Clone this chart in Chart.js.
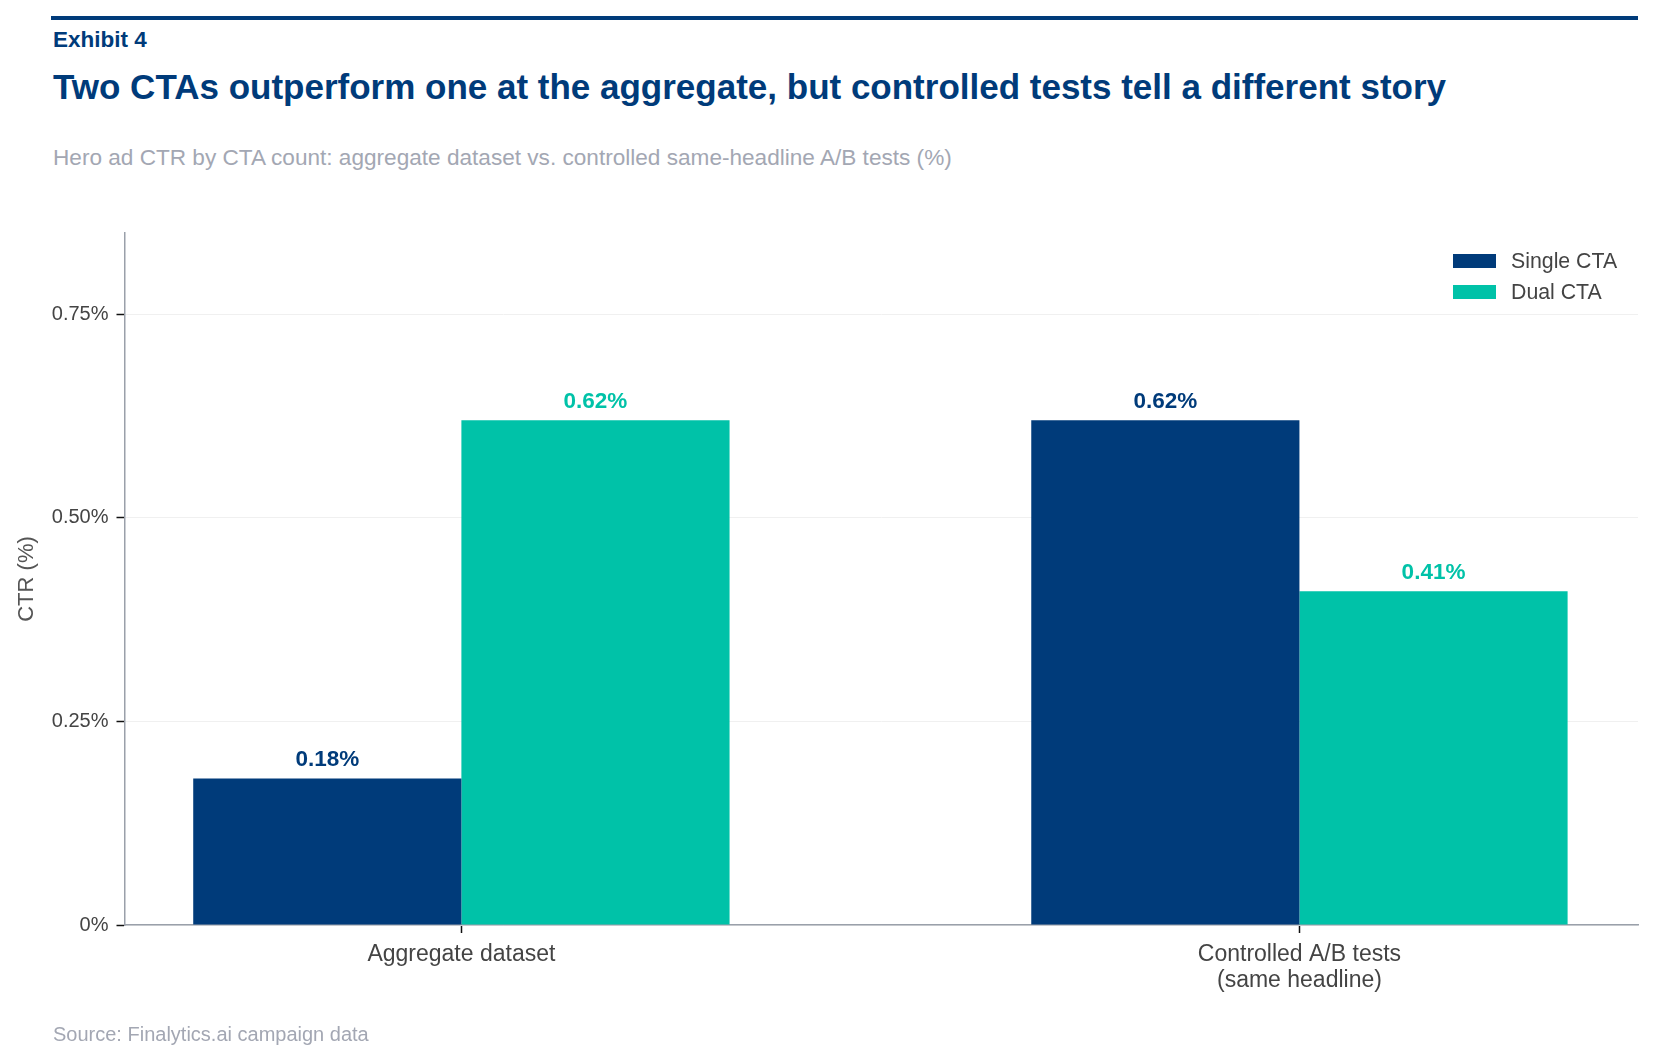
<!DOCTYPE html>
<html>
<head>
<meta charset="utf-8">
<script src="https://cdn.jsdelivr.net/npm/chart.js@4.4.1/dist/chart.umd.min.js"></script>
<style>
  html, body { margin: 0; padding: 0; background: #fff; }
  body { width: 1655px; height: 1062px; position: relative; overflow: hidden;
         font-family: "Liberation Sans", Arial, sans-serif; }
  .rule { position: absolute; left: 51px; top: 16px; width: 1587px; height: 4px; background: #003b7a; }
  .txt { position: absolute; left: 53px; line-height: 1; white-space: nowrap; }
  #exhibit { top: 29px; font-size: 22.5px; font-weight: bold; color: #003b7a; }
  #title { top: 69px; font-size: 35px; font-weight: bold; color: #003b7a; }
  #subtitle { top: 147px; font-size: 22.6px; color: #a3a7b3; }
  #source { top: 1024px; font-size: 20px; color: #a3a7b3; }
  #chart { position: absolute; left: 0; top: 0; }
</style>
</head>
<body>
<div class="rule"></div>
<div class="txt" id="exhibit">Exhibit 4</div>
<div class="txt" id="title">Two CTAs outperform one at the aggregate, but controlled tests tell a different story</div>
<div class="txt" id="subtitle">Hero ad CTR by CTA count: aggregate dataset vs. controlled same-headline A/B tests (%)</div>
<canvas id="chart" width="1655" height="1062"></canvas>
<div class="txt" id="source">Source: Finalytics.ai campaign data</div>

<script>
const categories = ["Aggregate dataset", "Controlled A/B tests\n(same headline)"];
const seriesNames = ["Single CTA", "Dual CTA"];
const singleCTA = [0.18, 0.62];
const dualCTA = [0.62, 0.41];
const yTicks = [0, 0.25, 0.5, 0.75];
const yTickLabels = ["0%", "0.25%", "0.50%", "0.75%"];

const NAVY = "#003b7a";
const TEAL = "#00c2a8";
const FONT = "'Liberation Sans', Arial, sans-serif";

function points(values) {
  return values.map((v, i) => ({ x: i, y: v }));
}

// value labels above the bars
const barLabels = {
  id: "barLabels",
  afterDatasetsDraw(chart) {
    const ctx = chart.ctx;
    ctx.save();
    ctx.font = "bold 22.5px " + FONT;
    ctx.textAlign = "center";
    ctx.textBaseline = "alphabetic";
    chart.data.datasets.forEach((ds, di) => {
      const meta = chart.getDatasetMeta(di);
      ctx.fillStyle = ds.backgroundColor;
      meta.data.forEach((bar, i) => {
        ctx.fillText(ds.data[i].y.toFixed(2) + "%", bar.x, bar.y - 12);
      });
    });
    ctx.restore();
  }
};

// legend stacked in the upper right of the plot
const cornerLegend = {
  id: "cornerLegend",
  afterDraw(chart) {
    const ctx = chart.ctx;
    const area = chart.chartArea;
    const x = area.right - 185;
    ctx.save();
    ctx.font = "21.3px " + FONT;
    ctx.textBaseline = "middle";
    chart.data.datasets.forEach((ds, i) => {
      const cy = area.top + 28 + i * 31;
      ctx.fillStyle = ds.backgroundColor;
      ctx.fillRect(x, cy - 7, 43, 14);
      ctx.fillStyle = "#444";
      ctx.fillText(ds.label, x + 58, cy + 1);
    });
    ctx.restore();
  }
};

new Chart(document.getElementById("chart"), {
  type: "bar",
  data: {
    datasets: [
      { label: seriesNames[0], data: points(singleCTA), backgroundColor: NAVY },
      { label: seriesNames[1], data: points(dualCTA), backgroundColor: TEAL },
    ],
  },
  options: {
    responsive: false,
    animation: false,
    categoryPercentage: 0.64,
    barPercentage: 1.0,
    layout: { padding: { left: 0, top: 233, right: 17, bottom: 37 } },
    plugins: {
      legend: { display: false },
      tooltip: { enabled: false },
    },
    scales: {
      x: {
        type: "linear",
        min: -0.402,
        max: 1.404,
        offset: false,
        afterBuildTicks: (scale) => {
          scale.ticks = categories.map((c, i) => ({ value: i }));
        },
        afterFit: (scale) => { scale.height = 100; },
        ticks: {
          callback: (value) => categories[value] ? categories[value].split("\n") : "",
          font: { family: FONT, size: 23, lineHeight: 1.12 },
          color: "#444",
          padding: 9,
          maxRotation: 0,
        },
        grid: {
          offset: false,
          drawOnChartArea: false,
          tickLength: 8,
          tickColor: "#111",
          tickWidth: 1.5,
        },
        border: { color: "#9aa0aa", width: 1.5 },
      },
      y: {
        min: 0,
        max: 0.85,
        afterBuildTicks: (scale) => {
          scale.ticks = yTicks.map((v) => ({ value: v }));
        },
        afterFit: (scale) => { scale.width = 124.5; },
        ticks: {
          callback: (value) => yTickLabels[yTicks.indexOf(value)],
          font: { family: FONT, size: 20 },
          color: "#444",
          padding: 8,
        },
        grid: {
          color: "#f0f0f0",
          lineWidth: 1,
          tickLength: 8,
          tickColor: "#111",
          tickWidth: 1.5,
        },
        border: { color: "#9aa0aa", width: 1.5 },
        title: {
          display: true,
          text: "CTR (%)",
          font: { family: FONT, size: 22 },
          color: "#555",
          padding: { top: 14, bottom: 0 },
        },
      },
    },
  },
  plugins: [barLabels, cornerLegend],
});
</script>
</body>
</html>
